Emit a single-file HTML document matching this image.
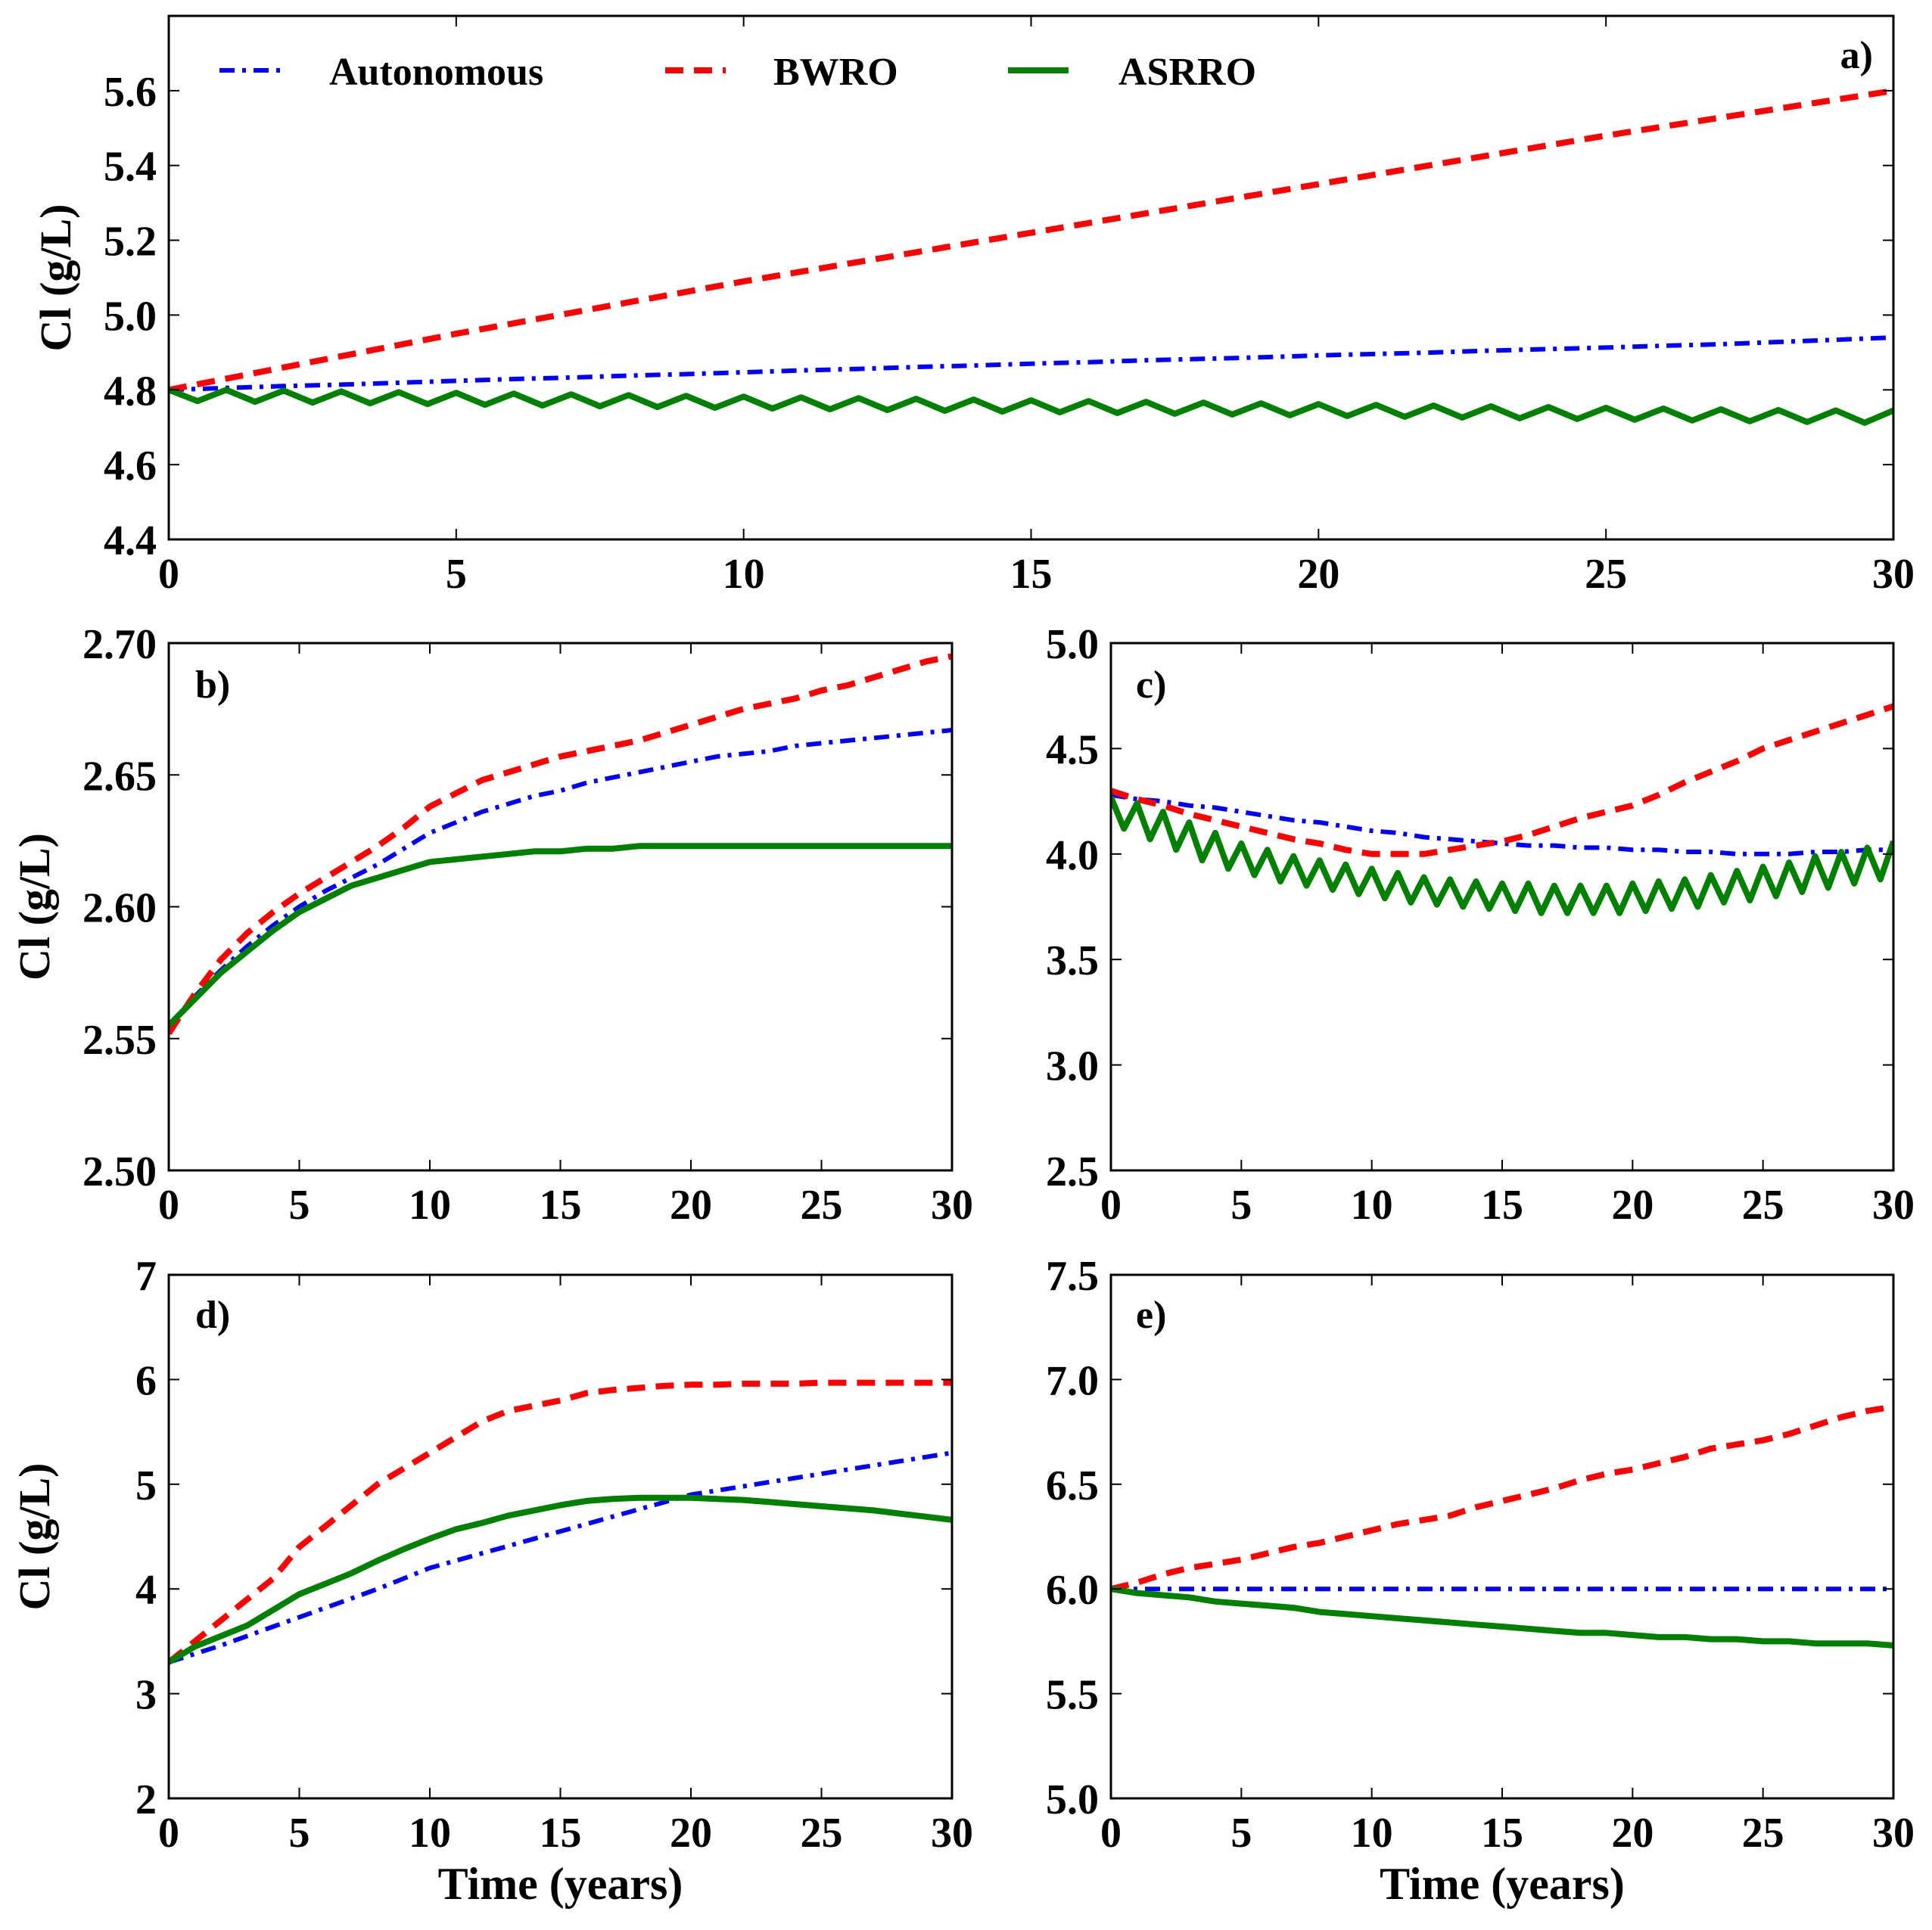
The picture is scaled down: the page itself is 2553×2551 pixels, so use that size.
<!DOCTYPE html>
<html><head><meta charset="utf-8"><style>
html,body{margin:0;padding:0;background:#fff}
text{font-family:"Liberation Serif",serif;font-weight:bold;fill:#000}
</style></head><body>
<svg id="chart" xmlns="http://www.w3.org/2000/svg" width="2553" height="2546" viewBox="0 0 2553 2546">
<rect width="2553" height="2546" fill="#fff"/>
</svg>
<script>
const years=[...Array(31).keys()];
const halfYears=years.slice(0,30);
const aAuto=[4.800,4.805,4.810,4.814,4.819,4.824,4.829,4.833,4.838,4.842,4.847,4.852,4.856,4.861,4.865,4.870,4.874,4.879,4.883,4.887,4.892,4.896,4.900,4.905,4.909,4.913,4.918,4.922,4.928,4.934,4.940];
const aBwro=[4.80,4.83,4.86,4.89,4.92,4.95,4.978,5.006,5.034,5.062,5.09,5.116,5.142,5.168,5.194,5.22,5.246,5.272,5.298,5.324,5.35,5.376,5.402,5.428,5.454,5.48,5.504,5.528,5.552,5.576,5.60];
const aAsrPeak=[4.80,4.800,4.798,4.796,4.794,4.792,4.790,4.788,4.786,4.784,4.782,4.780,4.778,4.776,4.774,4.772,4.770,4.768,4.766,4.764,4.762,4.760,4.758,4.756,4.754,4.752,4.750,4.748,4.746,4.745,4.745];
const aAsrTrough=[4.770,4.768,4.766,4.764,4.762,4.760,4.758,4.756,4.754,4.752,4.750,4.748,4.746,4.744,4.742,4.740,4.738,4.736,4.734,4.732,4.730,4.728,4.726,4.724,4.722,4.720,4.718,4.716,4.714,4.712];
const bAuto=[2.555,2.566,2.576,2.585,2.593,2.600,2.606,2.611,2.616,2.622,2.628,2.632,2.636,2.639,2.642,2.644,2.647,2.649,2.651,2.653,2.655,2.657,2.658,2.659,2.661,2.662,2.663,2.664,2.665,2.666,2.667];
const bBwro=[2.552,2.567,2.580,2.590,2.598,2.605,2.611,2.617,2.623,2.630,2.638,2.643,2.648,2.651,2.654,2.657,2.659,2.661,2.663,2.666,2.669,2.672,2.675,2.677,2.679,2.682,2.684,2.687,2.690,2.693,2.695];
const bAsr=[2.555,2.565,2.575,2.583,2.591,2.598,2.603,2.608,2.611,2.614,2.617,2.618,2.619,2.620,2.621,2.621,2.622,2.622,2.623,2.623,2.623,2.623,2.623,2.623,2.623,2.623,2.623,2.623,2.623,2.623,2.623];
const cAuto=[4.28,4.26,4.25,4.23,4.22,4.20,4.18,4.16,4.15,4.13,4.11,4.10,4.08,4.07,4.06,4.05,4.04,4.04,4.03,4.03,4.02,4.02,4.01,4.01,4.00,4.00,4.00,4.01,4.01,4.02,4.02];
const cBwro=[4.30,4.26,4.23,4.19,4.16,4.13,4.10,4.07,4.05,4.02,4.00,4.00,4.00,4.02,4.04,4.06,4.09,4.13,4.17,4.20,4.23,4.28,4.34,4.39,4.44,4.50,4.54,4.58,4.62,4.66,4.70];
const cAsrPeak=[4.27,4.24,4.20,4.15,4.10,4.05,4.02,3.99,3.97,3.95,3.93,3.91,3.89,3.88,3.87,3.86,3.86,3.85,3.85,3.85,3.86,3.87,3.88,3.90,3.92,3.94,3.96,3.99,4.01,4.03,4.06];
const cAsrTrough=[4.12,4.07,4.02,3.97,3.93,3.90,3.87,3.85,3.83,3.81,3.79,3.77,3.76,3.75,3.74,3.73,3.72,3.72,3.72,3.72,3.73,3.74,3.75,3.77,3.78,3.80,3.82,3.84,3.86,3.88];
const dAuto=[3.30,3.38,3.46,3.55,3.64,3.73,3.82,3.91,4.00,4.10,4.20,4.27,4.34,4.41,4.48,4.55,4.62,4.69,4.76,4.83,4.90,4.94,4.98,5.02,5.06,5.10,5.14,5.18,5.22,5.26,5.30];
const dBwro=[3.30,3.50,3.70,3.90,4.10,4.40,4.60,4.80,5.00,5.15,5.30,5.45,5.60,5.70,5.75,5.80,5.87,5.90,5.92,5.94,5.95,5.95,5.96,5.96,5.96,5.97,5.97,5.97,5.97,5.97,5.97];
const dAsr=[3.30,3.45,3.55,3.65,3.80,3.95,4.05,4.15,4.27,4.38,4.48,4.57,4.63,4.70,4.75,4.80,4.84,4.86,4.87,4.87,4.87,4.86,4.85,4.83,4.81,4.79,4.77,4.75,4.72,4.69,4.66];
const eAuto=[6.0,6.0,6.0,6.0,6.0,6.0,6.0,6.0,6.0,6.0,6.0,6.0,6.0,6.0,6.0,6.0,6.0,6.0,6.0,6.0,6.0,6.0,6.0,6.0,6.0,6.0,6.0,6.0,6.0,6.0,6.0];
const eBwro=[6.00,6.03,6.07,6.10,6.12,6.14,6.17,6.20,6.22,6.25,6.28,6.31,6.33,6.35,6.39,6.42,6.45,6.48,6.52,6.55,6.57,6.60,6.63,6.67,6.69,6.71,6.74,6.78,6.82,6.85,6.87];
const eAsr=[6.00,5.98,5.97,5.96,5.94,5.93,5.92,5.91,5.89,5.88,5.87,5.86,5.85,5.84,5.83,5.82,5.81,5.80,5.79,5.79,5.78,5.77,5.77,5.76,5.76,5.75,5.75,5.74,5.74,5.74,5.73];
const xTicks=[0,5,10,15,20,25,30];
const aTicks=[4.4,4.6,4.8,5.0,5.2,5.4,5.6];
const bTicks=[2.50,2.55,2.60,2.65,2.70];
const cTicks=[2.5,3.0,3.5,4.0,4.5,5.0];
const dTicks=[2,3,4,5,6,7];
const eTicks=[5.0,5.5,6.0,6.5,7.0,7.5];

const NS='http://www.w3.org/2000/svg';
const svg=document.getElementById('chart');
function mk(tag,attrs,parent){const e=document.createElementNS(NS,tag);for(const k in attrs)e.setAttribute(k,attrs[k]);(parent||svg).appendChild(e);return e;}
const STY={auto:{stroke:'#0000ff',w:6,dash:'20 10 5 10'},bwro:{stroke:'#ff0000',w:8,dash:'24 14'},asr:{stroke:'#008000',w:8,dash:''}};

const panels=[
 {id:'a',L:223,R:2502,T:21,B:713,y0:4.4,y1:5.8,ticks:aTicks,dec:1,label:'a)',lx:2475,ly:90,anchor:'end',ylab:73,ytitle:true,xtitle:false,
  auto:aAuto,bwro:aBwro,asrPeak:aAsrPeak,asrTrough:aAsrTrough},
 {id:'b',L:223,R:1258,T:850,B:1547,y0:2.5,y1:2.7,ticks:bTicks,dec:2,label:'b)',lx:258,ly:922,anchor:'start',ylab:45,ytitle:true,xtitle:false,
  auto:bAuto,bwro:bBwro,asr:bAsr},
 {id:'c',L:1468,R:2502,T:850,B:1547,y0:2.5,y1:5.0,ticks:cTicks,dec:1,label:'c)',lx:1501,ly:922,anchor:'start',ytitle:false,xtitle:false,
  auto:cAuto,bwro:cBwro,asrPeak:cAsrPeak,asrTrough:cAsrTrough},
 {id:'d',L:223,R:1258,T:1685,B:2377,y0:2,y1:7,ticks:dTicks,dec:0,label:'d)',lx:258,ly:1755,anchor:'start',ylab:45,ytitle:true,xtitle:true,
  auto:dAuto,bwro:dBwro,asr:dAsr},
 {id:'e',L:1468,R:2502,T:1685,B:2377,y0:5.0,y1:7.5,ticks:eTicks,dec:1,label:'e)',lx:1501,ly:1755,anchor:'start',ytitle:false,xtitle:true,
  auto:eAuto,bwro:eBwro,asr:eAsr}
];

panels.forEach(p=>{
 const g=mk('g',{});
 
 
 const xs=v=>p.L+(v-0)/30*(p.R-p.L);
 const ys=v=>p.B-(v-p.y0)/(p.y1-p.y0)*(p.B-p.T);
 const clip=mk('clipPath',{id:'clip'+p.id},g);
 mk('rect',{x:p.L,y:p.T,width:p.R-p.L,height:p.B-p.T},clip);
 const plot=mk('g',{'clip-path':'url(#clip'+p.id+')'},g);
 function line(pts,key,name){
  const s=STY[key];
  const path=mk('path',{d:'M'+pts.map(q=>q[0].toFixed(1)+','+q[1].toFixed(1)).join('L'),fill:'none',stroke:s.stroke,'stroke-width':s.w,'stroke-dasharray':s.dash,'stroke-linejoin':'round'},plot);
  
  
 }
 line(years.map((t,i)=>[xs(t),ys(p.auto[i])]),'auto','autonomous-line-'+p.id);
 line(years.map((t,i)=>[xs(t),ys(p.bwro[i])]),'bwro','bwro-line-'+p.id);
 let gp;
 if(p.asrPeak){gp=[];years.forEach((t,i)=>{gp.push([xs(t),ys(p.asrPeak[i])]);if(i<30)gp.push([xs(t+0.5),ys(p.asrTrough[i])]);});}
 else gp=years.map((t,i)=>[xs(t),ys(p.asr[i])]);
 line(gp,'asr','asrro-line-'+p.id);
 xTicks.forEach(t=>{
  const x=xs(t);
  mk('line',{x1:x,x2:x,y1:p.B,y2:p.B-14,stroke:'#000','stroke-width':2},g);
  mk('line',{x1:x,x2:x,y1:p.T,y2:p.T+14,stroke:'#000','stroke-width':2},g);
  const tx=mk('text',{x:x,y:p.B+64,'text-anchor':'middle','font-size':56},g);
  tx.textContent=t;
  
  
 });
 p.ticks.forEach(v=>{
  const y=ys(v);
  mk('line',{x1:p.L,x2:p.L+14,y1:y,y2:y,stroke:'#000','stroke-width':2},g);
  mk('line',{x1:p.R,x2:p.R-14,y1:y,y2:y,stroke:'#000','stroke-width':2},g);
  const tx=mk('text',{x:p.L-16,y:y+20,'text-anchor':'end','font-size':56},g);
  tx.textContent=v.toFixed(p.dec);
  
  
 });
 const fr=mk('rect',{x:p.L,y:p.T,width:p.R-p.L,height:p.B-p.T,fill:'none',stroke:'#000','stroke-width':3},g);
 
 
 const lb=mk('text',{x:p.lx,y:p.ly,'text-anchor':p.anchor,'font-size':52},g);
 lb.textContent=p.label;
 
 
 if(p.ytitle){
  const cy=(p.T+p.B)/2;
  const yt=mk('text',{x:p.ylab,y:cy,'text-anchor':'middle','font-size':58,transform:'rotate(-90 '+p.ylab+' '+cy+') translate(0 20)'},g);
  yt.textContent='Cl (g/L)';
  
  
 }
 if(p.xtitle){
  const xt=mk('text',{x:(p.L+p.R)/2,y:2510,'text-anchor':'middle','font-size':60},g);
  xt.textContent='Time (years)';
  
  
 }
});

const lg=mk('g',{});


[['auto','Autonomous',290,435],['bwro','BWRO',879,1022],['asr','ASRRO',1332,1478]].forEach(e=>{
 const s=STY[e[0]];
 const ln=mk('line',{x1:e[2],x2:e[2]+80,y1:93,y2:93,stroke:s.stroke,'stroke-width':s.w,'stroke-dasharray':s.dash},lg);
 
 
 const t=mk('text',{x:e[3],y:112,'font-size':52},lg);
 t.textContent=e[1];
 
 
});
</script>
</body></html>
